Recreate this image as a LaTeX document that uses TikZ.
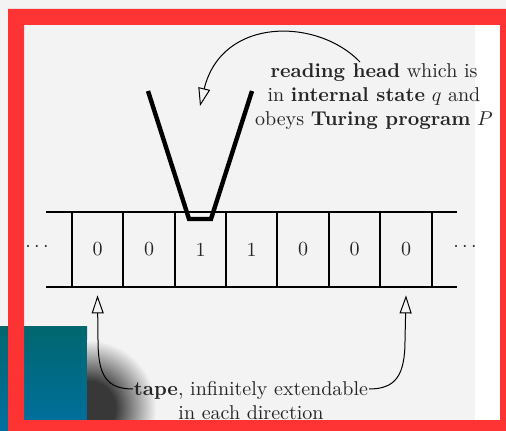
\documentclass[tikz,border=0pt]{standalone}
\usetikzlibrary{arrows.meta}
\definecolor{bggray}{HTML}{F3F3F3}
\definecolor{framered}{HTML}{FE3434}
\definecolor{tealtop}{HTML}{00666E}
\definecolor{tealbot}{HTML}{0070A0}
\definecolor{shd}{HTML}{383838}
\pgfdeclareradialshading{blob}{\pgfpointorigin}{color(0bp)=(shd); color(10bp)=(shd); color(25bp)=(bggray); color(50bp)=(bggray)}
\tikzset{
  tapeline/.style={line width=1pt},
  cellsep/.style={line width=1pt},
  cellbox/.style={minimum height=37.5pt, inner sep=0pt, text=black!85},
  headline/.style={line width=2.2pt},
  arr/.style={line width=0.5pt, -{Triangle[open, length=9pt, width=6pt]}},
  label/.style={align=center, text=black!85, inner sep=0pt},
}
\begin{document}
\begin{tikzpicture}[x=0.5pt,y=-0.5pt]
\useasboundingbox (0,0) rectangle (506,431);
\fill[bggray] (0,0) rectangle (506,431);
\fill[white] (475,25) rectangle (500,420);
% teal block and its shadow
\shade[top color=tealtop,bottom color=tealbot] (0,326) rectangle (87,431);
\begin{scope}
  \clip (87,320) rectangle (180,431);
  \shade[shading=blob] (88,408) circle[radius=68];
\end{scope}
% tape
\draw[tapeline] (46,212) -- (457,212);
\draw[tapeline] (46,287) -- (457,287);
\foreach \d/\a/\b [count=\i] in {0/72/123,0/123/175,1/175/226,1/226/277,0/277/329,0/329/380,0/380/432}{
  \node[cellbox, minimum width={(\b-\a)*0.5pt}] (c\i) at ({(\a+\b)/2},249.5) {\d};
  \draw[cellsep] (c\i.north west) -- (c\i.south west);
}
\draw[cellsep] (c7.north east) -- (c7.south east);
\node[text=black!85] (ldots) at (37,247) {$\cdots$};
\node[text=black!85] (rdots) at (465,247) {$\cdots$};
% reading head
\draw[headline] (148,91) -- (189,219) -- (211,219) -- (252,91);
% labels
\node[label] (headlabel) at (374,97) {\textbf{reading head} which is\\ in \textbf{internal state} $q$ and\\ obeys \textbf{Turing program} $P$};
\node[label] (tapelabel) at (251,401) {\textbf{tape}, infinitely extendable\\ in each direction};
% arrows
\coordinate (hstart) at (360,62);
\coordinate (htip) at (200,106);
\draw[arr] (hstart) .. controls (318,18) and (222,16) .. (htip);
\coordinate (tl) at (133,389);
\coordinate (tr) at (369,389);
\draw[arr] (tl) .. controls (106,389) and (98,375) .. (98,340) -- ([yshift=-4pt]c1.south);
\draw[arr] (tr) .. controls (396,389) and (405,375) .. (405,340) -- ([yshift=-4pt]c7.south);
% red frame
\fill[framered, even odd rule] (8,9) rectangle (506,431) (24,25) rectangle (500,420);
\end{tikzpicture}
\end{document}
